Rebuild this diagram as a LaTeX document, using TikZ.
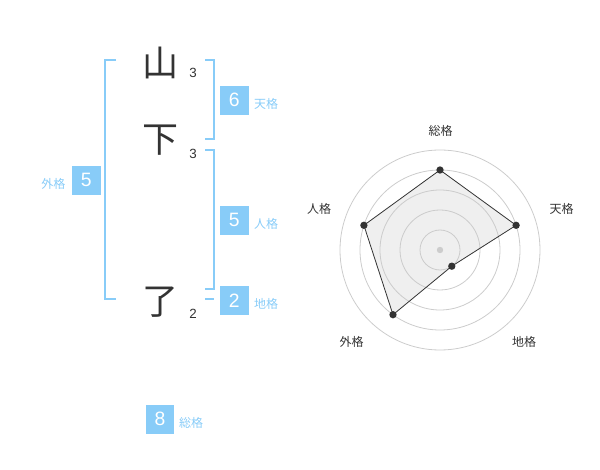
\documentclass[tikz,border=0pt]{standalone}
\usepackage{fontspec}
\setmainfont{Liberation Sans}
\newfontfamily\jp{Noto Sans CJK JP}
\definecolor{skyb}{HTML}{88CCF8}
\definecolor{ink}{HTML}{333333}
\definecolor{ringc}{HTML}{CCCCCC}
\begin{document}
\begin{tikzpicture}[x=0.75pt,y=-0.75pt,
  kanji/.style={font=\jp\fontsize{27}{27}\selectfont,text=ink,inner sep=0pt},
  strokes/.style={font=\fontsize{10}{10}\selectfont,text=ink,inner sep=0pt},
  numbox/.style={fill=skyb,minimum size=21.5pt,inner sep=0pt,text=white,font=\fontsize{14.5}{14.5}\selectfont},
  kaku/.style={font=\jp\fontsize{9}{9}\selectfont,text=skyb,inner sep=0pt},
  bracket/.style={draw=skyb,line width=1.5pt},
  ring/.style={draw=ringc,line width=0.6pt},
  axislabel/.style={font=\jp\fontsize{9}{9}\selectfont,text=ink,inner sep=0pt},
  pt/.style={circle,fill=ink,inner sep=0pt,minimum size=5.5pt}]
\useasboundingbox (0,0) rectangle (600,470);
% kanji
\node[kanji] (k1) at (160,63) {山};
\node[kanji] (k2) at (160,140) {下};
\node[kanji] (k3) at (160,302) {了};
\node[strokes] (s1) at (193,72.5) {3};
\node[strokes] (s2) at (193,153.5) {3};
\node[strokes] (s3) at (193,314) {2};
% brackets
\draw[bracket] (116,60) -- (105,60) -- (105,299.3) -- (116,299.3);
\draw[bracket] (205,60) -- (214.3,60) -- (214.3,139.3) -- (205,139.3);
\draw[bracket] (205,150) -- (214.3,150) -- (214.3,289.3) -- (205,289.3);
\draw[bracket] (205,299.3) -- (214.3,299.3);
% boxes
\node[numbox] (ten) at (234.3,100.3) {6};
\node[kaku] (tenl) at (266,104) {天格};
\node[numbox] (jin) at (234.3,220.3) {5};
\node[kaku] (jinl) at (266,224) {人格};
\node[numbox] (chi) at (234.3,300.3) {2};
\node[kaku] (chil) at (266,304) {地格};
\node[numbox] (gai) at (86.3,180.3) {5};
\node[kaku] (gail) at (53.3,184) {外格};
\node[numbox] (sou) at (160,419.3) {8};
\node[kaku] (soul) at (191,423.3) {総格};
% radar
\coordinate (c) at (440,250);
\coordinate (pS) at (440,170);
\coordinate (pT) at (516.1,225.3);
\coordinate (pC) at (451.8,266.2);
\coordinate (pG) at (393.0,314.7);
\coordinate (pJ) at (363.9,225.3);
\fill[black!7, opacity=0.9] (pS) -- (pT) -- (pC) -- (pG) -- (pJ) -- cycle;
\foreach \r in {20,40,60,80,100} \draw[ring] (c) circle[radius=\r];
\fill[ringc] (c) circle[radius=3.2];
\draw[ink,line width=0.6pt] (pS) -- (pT) -- (pC) -- (pG) -- (pJ) -- cycle;
\foreach \p in {pS,pT,pC,pG,pJ} \node[pt] at (\p) {};
\node[axislabel] (aS) at (440.7,130.7) {総格};
\node[axislabel] (aT) at (561.7,209) {天格};
\node[axislabel] (aJ) at (319,209) {人格};
\node[axislabel] (aG) at (351.7,342.3) {外格};
\node[axislabel] (aC) at (524,342.3) {地格};
\end{tikzpicture}
\end{document}
